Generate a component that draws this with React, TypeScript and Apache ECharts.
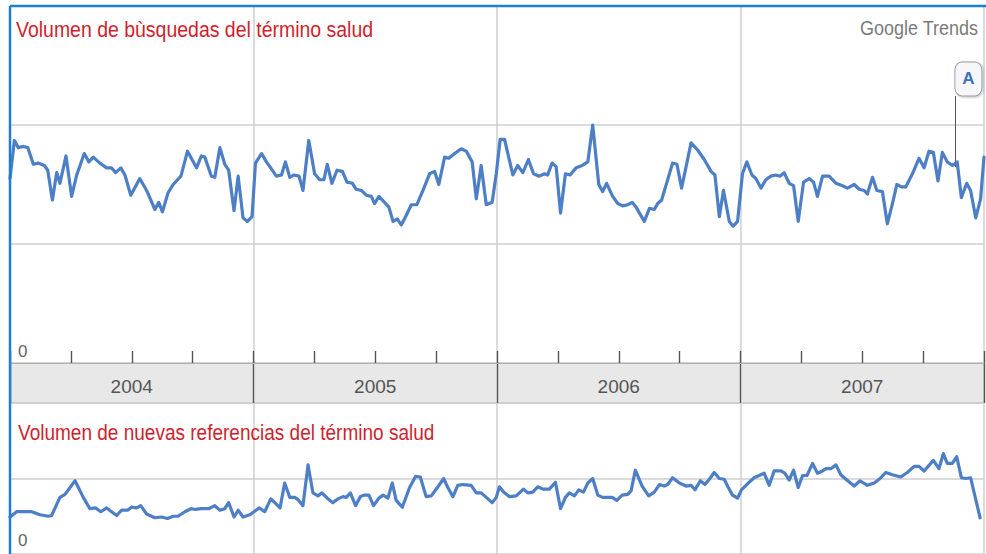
import React, { useEffect, useRef } from "react";
import * as echarts from "echarts";

// x = years since January 2004, y = relative volume
const searchVolume: [number, number][] = [
  [0, 1.55], [0.018, 1.87], [0.034, 1.81], [0.055, 1.82], [0.073, 1.81], [0.096, 1.67], [0.116, 1.68], [0.141, 1.66],
  [0.155, 1.62], [0.174, 1.37], [0.192, 1.6], [0.205, 1.51], [0.23, 1.74], [0.253, 1.4], [0.274, 1.58], [0.305, 1.76],
  [0.324, 1.69], [0.342, 1.73], [0.369, 1.68], [0.397, 1.64], [0.417, 1.64], [0.434, 1.6], [0.455, 1.64], [0.472, 1.58],
  [0.496, 1.41], [0.533, 1.55], [0.561, 1.45], [0.595, 1.29], [0.611, 1.35], [0.626, 1.27], [0.649, 1.43], [0.67, 1.5],
  [0.702, 1.57], [0.729, 1.78], [0.766, 1.64], [0.786, 1.74], [0.8, 1.73], [0.827, 1.57], [0.841, 1.56], [0.862, 1.81],
  [0.882, 1.67], [0.898, 1.62], [0.92, 1.28], [0.937, 1.57], [0.957, 1.22], [0.975, 1.19], [0.994, 1.23], [1.008, 1.68],
  [1.033, 1.76], [1.053, 1.69], [1.074, 1.63], [1.094, 1.57], [1.115, 1.58], [1.131, 1.69], [1.149, 1.56], [1.166, 1.58],
  [1.187, 1.57], [1.203, 1.45], [1.227, 1.87], [1.251, 1.59], [1.272, 1.54], [1.289, 1.54], [1.303, 1.67], [1.322, 1.51],
  [1.343, 1.62], [1.365, 1.61], [1.384, 1.52], [1.406, 1.51], [1.422, 1.46], [1.443, 1.45], [1.463, 1.41], [1.484, 1.4],
  [1.497, 1.34], [1.515, 1.4], [1.538, 1.35], [1.556, 1.31], [1.573, 1.19], [1.591, 1.21], [1.607, 1.16], [1.627, 1.24],
  [1.648, 1.33], [1.671, 1.33], [1.696, 1.45], [1.723, 1.59], [1.744, 1.61], [1.761, 1.5], [1.785, 1.73], [1.802, 1.72],
  [1.826, 1.76], [1.853, 1.8], [1.874, 1.78], [1.898, 1.69], [1.915, 1.38], [1.935, 1.66], [1.956, 1.33], [1.98, 1.35],
  [1.997, 1.59], [2.013, 1.88], [2.031, 1.88], [2.065, 1.58], [2.085, 1.66], [2.106, 1.6], [2.129, 1.71], [2.15, 1.59],
  [2.174, 1.57], [2.195, 1.59], [2.208, 1.58], [2.226, 1.68], [2.243, 1.65], [2.261, 1.26], [2.281, 1.59], [2.3, 1.58],
  [2.325, 1.64], [2.35, 1.66], [2.373, 1.69], [2.393, 2.0], [2.418, 1.5], [2.434, 1.44], [2.45, 1.51], [2.475, 1.4],
  [2.496, 1.34], [2.516, 1.32], [2.537, 1.33], [2.555, 1.35], [2.571, 1.31], [2.605, 1.19], [2.626, 1.3], [2.646, 1.29],
  [2.66, 1.34], [2.676, 1.37], [2.698, 1.52], [2.721, 1.68], [2.739, 1.67], [2.758, 1.47], [2.797, 1.85], [2.824, 1.79],
  [2.851, 1.71], [2.879, 1.61], [2.895, 1.58], [2.913, 1.23], [2.93, 1.45], [2.954, 1.19], [2.97, 1.15], [2.988, 1.19],
  [3.008, 1.59], [3.026, 1.69], [3.047, 1.58], [3.063, 1.55], [3.084, 1.47], [3.104, 1.54], [3.125, 1.57], [3.145, 1.58],
  [3.163, 1.57], [3.179, 1.6], [3.2, 1.51], [3.218, 1.49], [3.237, 1.19], [3.259, 1.52], [3.282, 1.55], [3.3, 1.52],
  [3.316, 1.4], [3.337, 1.57], [3.364, 1.57], [3.392, 1.51], [3.419, 1.49], [3.439, 1.47], [3.467, 1.5], [3.487, 1.46],
  [3.508, 1.45], [3.521, 1.42], [3.542, 1.56], [3.56, 1.45], [3.583, 1.44], [3.603, 1.17], [3.624, 1.34], [3.642, 1.5],
  [3.661, 1.48], [3.679, 1.48], [3.706, 1.59], [3.733, 1.72], [3.754, 1.64], [3.774, 1.78], [3.792, 1.77], [3.811, 1.53],
  [3.829, 1.77], [3.849, 1.69], [3.87, 1.66], [3.89, 1.69], [3.907, 1.39], [3.929, 1.51], [3.945, 1.45], [3.966, 1.22],
  [3.986, 1.38], [4.0, 1.73],
];

const newsVolume: [number, number][] = [
  [0, 0.49], [0.027, 0.56], [0.055, 0.56], [0.089, 0.56], [0.123, 0.52], [0.157, 0.5], [0.171, 0.51], [0.205, 0.75],
  [0.226, 0.79], [0.267, 0.97], [0.301, 0.75], [0.328, 0.6], [0.352, 0.61], [0.373, 0.56], [0.397, 0.61], [0.417, 0.56],
  [0.438, 0.51], [0.458, 0.58], [0.483, 0.58], [0.499, 0.62], [0.52, 0.61], [0.537, 0.64], [0.561, 0.53], [0.595, 0.48],
  [0.622, 0.49], [0.647, 0.47], [0.67, 0.5], [0.69, 0.5], [0.718, 0.56], [0.743, 0.6], [0.762, 0.59], [0.784, 0.6],
  [0.816, 0.6], [0.841, 0.64], [0.862, 0.58], [0.882, 0.6], [0.898, 0.68], [0.92, 0.49], [0.937, 0.58], [0.957, 0.49],
  [0.985, 0.52], [1.002, 0.56], [1.023, 0.61], [1.046, 0.56], [1.071, 0.73], [1.094, 0.66], [1.109, 0.61], [1.128, 0.94],
  [1.149, 0.75], [1.169, 0.75], [1.183, 0.72], [1.203, 0.64], [1.224, 1.18], [1.244, 0.81], [1.265, 0.77], [1.281, 0.81],
  [1.306, 0.73], [1.326, 0.68], [1.347, 0.73], [1.367, 0.76], [1.381, 0.75], [1.398, 0.81], [1.419, 0.64], [1.439, 0.76],
  [1.456, 0.78], [1.474, 0.78], [1.493, 0.64], [1.515, 0.74], [1.532, 0.78], [1.552, 0.74], [1.57, 0.94], [1.586, 0.71],
  [1.611, 0.62], [1.641, 0.88], [1.666, 1.03], [1.685, 1.02], [1.709, 0.76], [1.73, 0.77], [1.753, 0.87], [1.781, 1.0],
  [1.798, 0.88], [1.819, 0.76], [1.839, 0.91], [1.86, 0.92], [1.894, 0.91], [1.915, 0.81], [1.935, 0.81], [1.956, 0.75],
  [1.98, 0.68], [1.997, 0.75], [2.01, 0.89], [2.027, 0.82], [2.051, 0.76], [2.079, 0.77], [2.109, 0.86], [2.126, 0.81],
  [2.147, 0.82], [2.167, 0.89], [2.188, 0.86], [2.215, 0.86], [2.24, 0.95], [2.261, 0.6], [2.281, 0.75], [2.297, 0.81],
  [2.318, 0.77], [2.336, 0.85], [2.355, 0.82], [2.373, 0.94], [2.393, 1.0], [2.414, 0.78], [2.434, 0.75], [2.473, 0.75],
  [2.492, 0.71], [2.514, 0.78], [2.537, 0.79], [2.551, 0.84], [2.568, 1.11], [2.596, 0.9], [2.623, 0.77], [2.646, 0.82],
  [2.667, 0.92], [2.687, 0.9], [2.701, 0.92], [2.721, 1.01], [2.749, 0.94], [2.776, 0.9], [2.797, 0.91], [2.813, 0.85],
  [2.835, 0.97], [2.854, 0.92], [2.872, 0.99], [2.892, 1.08], [2.913, 1.0], [2.933, 0.99], [2.95, 0.88], [2.967, 0.78],
  [2.988, 0.74], [3.004, 0.85], [3.032, 0.94], [3.056, 1.01], [3.077, 1.04], [3.097, 1.07], [3.118, 0.91], [3.138, 1.1],
  [3.166, 1.1], [3.182, 1.07], [3.2, 0.98], [3.218, 1.11], [3.237, 0.88], [3.255, 1.04], [3.273, 1.04], [3.296, 1.2],
  [3.316, 1.07], [3.337, 1.1], [3.351, 1.13], [3.371, 1.13], [3.392, 1.18], [3.412, 1.05], [3.433, 0.99], [3.467, 0.9],
  [3.491, 0.97], [3.521, 0.91], [3.549, 0.94], [3.573, 1.0], [3.597, 1.08], [3.624, 1.05], [3.658, 1.02], [3.685, 1.08],
  [3.713, 1.16], [3.733, 1.16], [3.754, 1.1], [3.792, 1.24], [3.815, 1.13], [3.833, 1.33], [3.849, 1.2], [3.87, 1.2],
  [3.888, 1.29], [3.907, 1.01], [3.925, 1.0], [3.945, 1.01], [3.984, 0.48],
];

const yearLabels = ["2004", "2005", "2006", "2007"];

// Annotation "A": box centre and pointer position (years since 2004, value)
const annotationLabel = "A";
const annotationBox: [number, number] = [3.936, 2.387];
const annotationPointer: [number, number][] = [[3.881, 1.647], [3.881, 2.244]];

const topTitle = "Volumen de bùsquedas del término salud";
const bottomTitle = "Volumen de nuevas referencias del término salud";
const brand = "Google Trends";

const FONT = '"Liberation Sans", Arial, Helvetica, sans-serif';
const LINE = "#4d7fc6";
const GRID = "#cfcfcf";
const TICK = "#555555";

export default function App() {
  const ref = useRef<HTMLDivElement>(null);

  useEffect(() => {
    if (!ref.current) return;
    const chart = echarts.init(ref.current, undefined, { renderer: "svg" });

    const valueX = (gridIndex: number, position: "top" | "bottom", tickLen: number) => ({
      gridIndex,
      type: "value",
      min: 0,
      max: 4,
      interval: 1,
      position,
      axisLine: { show: true, lineStyle: { color: "#b0b0b0", width: 1 } },
      axisTick: { show: true, inside: true, length: tickLen, lineStyle: { color: TICK, width: 1.4 } },
      minorTick: { show: true, splitNumber: 4, length: tickLen, lineStyle: { color: TICK, width: 1.4 } },
      minorSplitLine: { show: false },
      axisLabel: { show: false },
      splitLine: { show: true, lineStyle: { color: GRID, width: 1.5 } },
    });

    chart.setOption({
      animation: false,
      backgroundColor: "#ffffff",
      grid: [
        { left: 10, right: 2, top: 6, height: 357 },
        {
          left: 10, right: 2, top: 363, height: 40, show: true,
          backgroundColor: "#e8e8e8", borderColor: "#b0b0b0", borderWidth: 1,
        },
        { left: 10, right: 2, top: 403, height: 153 },
      ],
      xAxis: [
        valueX(0, "bottom", 12),
        {
          gridIndex: 1,
          type: "category",
          data: yearLabels,
          boundaryGap: true,
          position: "bottom",
          axisLine: { show: false },
          axisTick: { show: false },
          splitLine: { show: true, interval: 0, lineStyle: { color: TICK, width: 1.4 } },
          axisLabel: {
            inside: true, margin: 17, verticalAlign: "middle",
            fontSize: 19, color: "#555555", fontFamily: FONT,
          },
        },
        valueX(2, "top", 10),
      ],
      yAxis: [
        {
          gridIndex: 0, type: "value", min: 0, max: 3, interval: 1,
          axisLine: { show: false }, axisTick: { show: false },
          splitLine: { show: true, lineStyle: { color: GRID, width: 1.5 } },
          axisLabel: {
            inside: true, margin: 8, verticalAlign: "bottom", padding: [0, 0, 3, 0],
            fontSize: 17, color: "#666666", fontFamily: FONT,
            formatter: (v: number) => (v === 0 ? "0" : ""),
          },
        },
        { gridIndex: 1, type: "value", show: false },
        {
          gridIndex: 2, type: "value", min: 0, max: 2, interval: 1,
          axisLine: { show: false }, axisTick: { show: false },
          splitLine: { show: true, lineStyle: { color: GRID, width: 1.5 } },
          axisLabel: {
            inside: true, margin: 8, verticalAlign: "bottom", padding: [0, 0, 5, 0],
            fontSize: 17, color: "#666666", fontFamily: FONT,
            formatter: (v: number) => (v === 0 ? "0" : ""),
          },
        },
      ],
      series: [
        {
          name: topTitle,
          type: "line",
          xAxisIndex: 0,
          yAxisIndex: 0,
          data: searchVolume,
          symbol: "none",
          lineStyle: { color: LINE, width: 3.2, join: "round", cap: "round" },
          z: 5,
          markLine: {
            silent: true,
            symbol: ["none", "none"],
            label: { show: false },
            lineStyle: { color: "#555555", width: 1, type: "solid" },
            data: [[{ coord: annotationPointer[0] }, { coord: annotationPointer[1] }]],
          },
          markPoint: {
            silent: true,
            symbol: "roundRect",
            symbolSize: [27, 34],
            itemStyle: {
              color: "#f6f7f9", borderColor: "#9a9a9a", borderWidth: 1,
              shadowColor: "rgba(0,0,0,0.25)", shadowBlur: 2, shadowOffsetX: 1, shadowOffsetY: 1,
            },
            label: {
              show: true, formatter: annotationLabel, color: "#3f70c2",
              fontWeight: "bold", fontSize: 17, fontFamily: FONT,
            },
            data: [{ coord: annotationBox }],
          },
        },
        {
          name: bottomTitle,
          type: "line",
          xAxisIndex: 2,
          yAxisIndex: 2,
          data: newsVolume,
          symbol: "none",
          lineStyle: { color: LINE, width: 3.2, join: "round", cap: "round" },
          z: 5,
        },
      ],
      graphic: [
        {
          type: "text", x: 16, y: 29, scaleX: 0.885, z: 50,
          style: { text: topTitle, fill: "#cf1f2e", fontSize: 22, fontFamily: FONT, verticalAlign: "middle" },
        },
        {
          type: "text", x: 18, y: 432, scaleX: 0.865, z: 50,
          style: { text: bottomTitle, fill: "#cf1f2e", fontSize: 22, fontFamily: FONT, verticalAlign: "middle" },
        },
        {
          type: "text", x: 978, y: 28, scaleX: 0.9, z: 50,
          style: { text: brand, fill: "#7a7a7a", fontSize: 20, fontFamily: FONT, align: "right", verticalAlign: "middle" },
        },
        {
          type: "line", z: 100,
          shape: { x1: 10, y1: 6, x2: 986, y2: 6 },
          style: { stroke: "#1c7fd2", lineWidth: 2.5 },
        },
        {
          type: "line", z: 100,
          shape: { x1: 10, y1: 6, x2: 10, y2: 554 },
          style: { stroke: "#1c7fd2", lineWidth: 2.5 },
        },
      ],
    });

    return () => chart.dispose();
  }, []);

  return (
    <div
      ref={ref}
      style={{ position: "absolute", left: 0, top: 0, width: 986, height: 554 }}
    />
  );
}
